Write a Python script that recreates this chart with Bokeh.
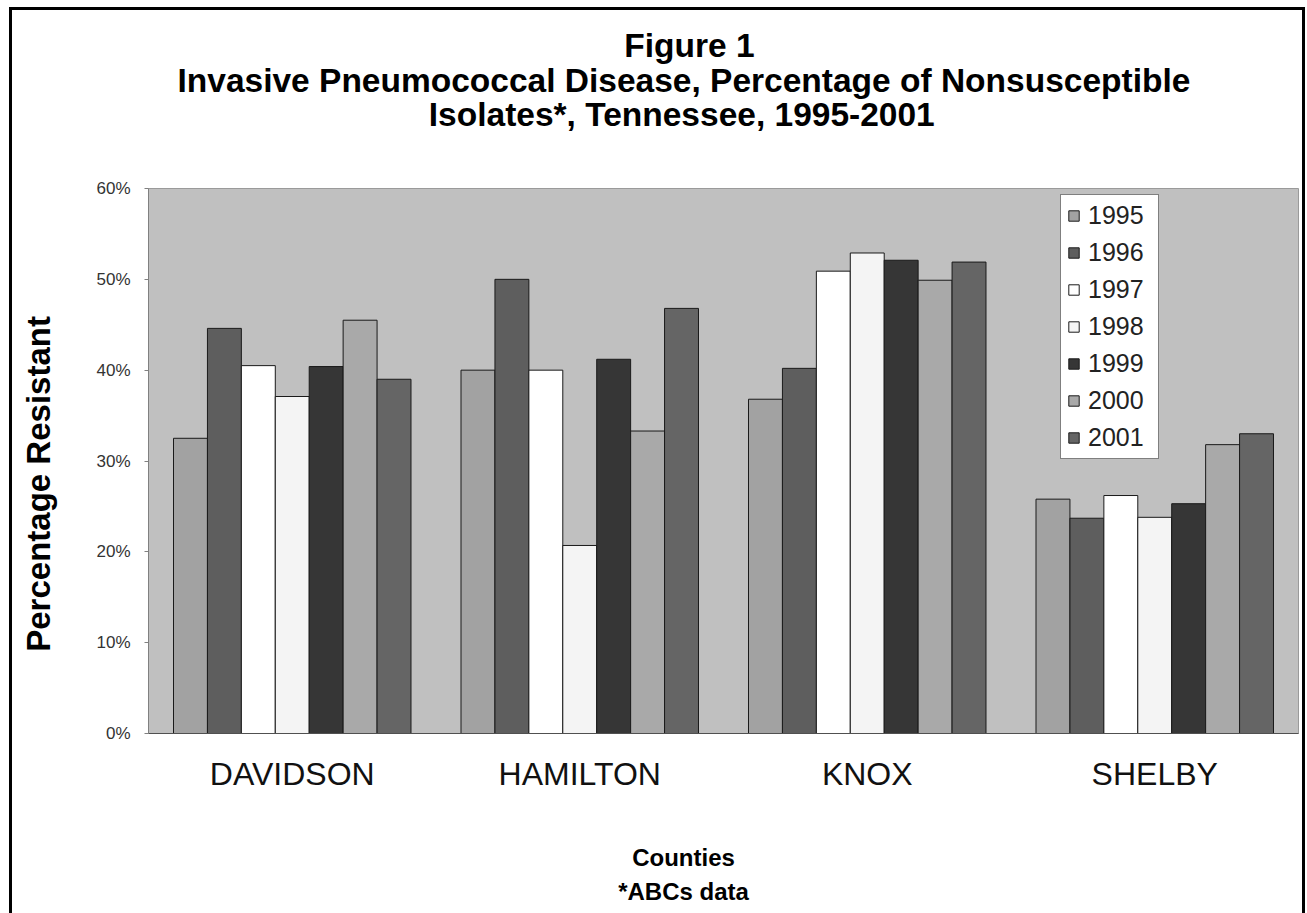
from bokeh.plotting import figure
from bokeh.models import Range1d, FactorRange, NumeralTickFormatter, FixedTicker, ColumnDataSource, Title, InlineStyleSheet
from bokeh.transform import dodge
from bokeh.embed import file_html
from bokeh.resources import INLINE

counties = ["DAVIDSON", "HAMILTON", "KNOX", "SHELBY"]
years = ["1995", "1996", "1997", "1998", "1999", "2000", "2001"]
v1995 = [32.5, 40.0, 36.8, 25.8]
v1996 = [44.6, 50.0, 40.2, 23.7]
v1997 = [40.5, 40.0, 50.9, 26.2]
v1998 = [37.1, 20.7, 52.9, 23.8]
v1999 = [40.4, 41.2, 52.1, 25.3]
v2000 = [45.5, 33.3, 49.9, 31.8]
v2001 = [39.0, 46.8, 51.9, 33.0]
yticks = [0, 0.1, 0.2, 0.3, 0.4, 0.5, 0.6]
title_lines = ["Figure 1",
               "Invasive Pneumococcal Disease, Percentage of Nonsusceptible",
               "Isolates*, Tennessee, 1995-2001"]
x_title = ["Counties", "*ABCs data"]

series = [v1995, v1996, v1997, v1998, v1999, v2000, v2001]
colors = ["#a2a2a2", "#5e5e5e", "#ffffff", "#f4f4f4", "#363636", "#a9a9a9", "#656565"]

data = {"county": counties}
for y, vals in zip(years, series):
    data["y" + y] = [v / 100.0 for v in vals]
source = ColumnDataSource(data)

W, H = 1307, 913
FONT = "Liberation Sans"
NB = "\u00a0"

p = figure(x_range=FactorRange(*counties), y_range=Range1d(0, 0.6),
           width=W, height=H, output_backend="svg", toolbar_location=None,
           min_border_left=148, min_border_right=9, min_border_top=188, min_border_bottom=180,
           background_fill_color="#c0c0c0", border_fill_color="white")

bw = 0.118
for i, (y, c) in enumerate(zip(years, colors)):
    p.vbar(x=dodge("county", (i - 3) * bw, range=p.x_range), top="y" + y, width=bw,
           source=source, fill_color=c, line_color="#1a1a1a", line_width=1,
           legend_label=y)

p.title.text = ""
p.title.visible = False

# spacer between the title block and the plot area
p.add_layout(Title(text=NB, text_font=FONT, text_font_size="47px", standoff=0), "above")

# three centred lines: lines are left-aligned in Bokeh, so pad the short ones
indent = [48, 0, 27]
title_text = "\n".join(NB * n + s for n, s in zip(indent, title_lines))
p.add_layout(Title(text=title_text, align="left", offset=29, standoff=0,
                   text_font=FONT, text_font_size="33.5px", text_font_style="bold",
                   text_color="black", text_line_height=0.935), "above")

p.xgrid.visible = False
p.ygrid.visible = False
p.outline_line_color = "#9a9a9a"

p.yaxis.ticker = FixedTicker(ticks=yticks)
p.yaxis.formatter = NumeralTickFormatter(format="0%")
p.yaxis.major_label_text_font = FONT
p.yaxis.major_label_text_font_size = "17px"
p.yaxis.major_label_text_color = "#333333"
p.yaxis.axis_line_color = "#808080"
p.yaxis.major_tick_out = 4
p.yaxis.major_tick_in = 0
p.yaxis.major_tick_line_color = "#808080"
p.yaxis.minor_tick_line_color = None
p.yaxis.major_label_standoff = 14
p.yaxis.axis_label = "Percentage Resistant" + NB * 5
p.yaxis.axis_label_text_font = FONT
p.yaxis.axis_label_text_font_size = "33px"
p.yaxis.axis_label_text_font_style = "bold"
p.yaxis.axis_label_text_color = "black"
p.yaxis.axis_label_standoff = 36

p.xaxis.major_label_text_font = FONT
p.xaxis.major_label_text_font_size = "32px"
p.xaxis.major_label_text_color = "#111111"
p.xaxis.major_tick_line_color = None
p.xaxis.axis_line_color = "#505050"
p.xaxis.major_label_standoff = 16
p.xaxis.axis_label = "\n".join(s + NB * 12 for s in x_title)
p.xaxis.axis_label_text_font = FONT
p.xaxis.axis_label_text_font_size = "24px"
p.xaxis.axis_label_text_font_style = "bold"
p.xaxis.axis_label_text_color = "black"
p.xaxis.axis_label_text_line_height = 1.27
p.xaxis.axis_label_standoff = 49

lg = p.legend[0]
lg.location = (912, 274)
lg.background_fill_color = "white"
lg.background_fill_alpha = 1
lg.border_line_color = "black"
lg.border_line_width = 1
lg.padding = 6
lg.spacing = 8
lg.margin = 0
lg.glyph_width = 13
lg.glyph_height = 13
lg.label_height = 25
lg.label_width = 64
lg.label_standoff = 8
lg.label_text_font = FONT
lg.label_text_font_size = "25px"
lg.label_text_color = "#222222"

frame_css = InlineStyleSheet(css="""
:host { position: relative; }
:host::after {
  content: "";
  position: absolute;
  left: 9px; top: 7px;
  width: 1296px; height: calc(100% - 7px);
  box-sizing: border-box;
  border: 3px solid black;
  border-bottom: none;
  pointer-events: none;
  z-index: 10;
}
""")
p.stylesheets = [frame_css]

open("out.html", "w").write(file_html(p, INLINE))
